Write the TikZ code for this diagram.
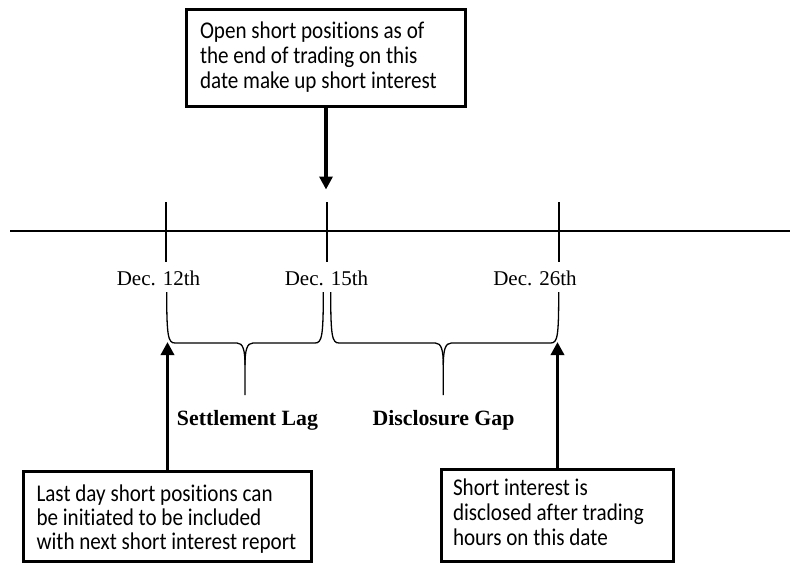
\documentclass[tikz,border=0pt]{standalone}
\usepackage{fontspec}
\setmainfont{Liberation Serif}
\newfontfamily\callfont[FakeStretch=0.88, Ligatures=NoCommon]{Carlito}
\usetikzlibrary{arrows.meta}
\newcommand{\calltext}[2]{\makebox[#1][l]{\begin{tabular}{@{}l@{}}#2\end{tabular}}}
\begin{document}
\begin{tikzpicture}[x=1pt,y=-1pt,
  callout/.style={draw, line width=3pt, rectangle,
    font=\callfont\fontsize{24}{25}\selectfont, inner ysep=0pt, outer sep=0pt},
  ptr/.style={line width=3.5pt, -{Triangle[width=13pt,length=13pt]}},
  axisline/.style={line width=2pt},
  tickline/.style={line width=2pt},
  bracepath/.style={line width=1.3pt},
  datelbl/.style={font=\fontsize{21}{24}\selectfont, anchor=base, inner sep=0pt},
  gaplbl/.style={font=\bfseries\fontsize{21.8}{24}\selectfont, anchor=base, inner sep=0pt}]
\useasboundingbox (0,0) rectangle (790,565);

% timeline
\coordinate (tlw) at (10,231);
\coordinate (tle) at (790,231);
\draw[axisline] (tlw) -- (tle);
\coordinate (t12a) at (166.2,202); \coordinate (t12b) at (166.2,261.5);
\coordinate (t15a) at (327.3,202); \coordinate (t15b) at (327.3,261.5);
\coordinate (t26a) at (558.8,202); \coordinate (t26b) at (558.8,261.5);
\draw[tickline] (t12a) -- (t12b);
\draw[tickline] (t15a) -- (t15b);
\draw[tickline] (t26a) -- (t26b);

% dates
\node[datelbl] (d12) at (158.5,285) {Dec. 12th};
\node[datelbl] (d15) at (326.5,285) {Dec. 15th};
\node[datelbl] (d26) at (535,285) {Dec. 26th};

% braces
\draw[bracepath] (166.7,292) .. controls (166.7,336) and (168,343) .. (175,343) -- (237,343)
  .. controls (243,343) and (245,350) .. (245,365) -- (245,395);
\draw[bracepath] (245,365) .. controls (245,350) and (247,343) .. (253,343) -- (315,343)
  .. controls (322,343) and (323.3,336) .. (323.3,292);
\draw[bracepath] (330.7,292) .. controls (330.7,336) and (332,343) .. (339,343) -- (435.3,343)
  .. controls (441.3,343) and (443.3,350) .. (443.3,365) -- (443.3,395);
\draw[bracepath] (443.3,365) .. controls (443.3,350) and (445.3,343) .. (451.3,343) -- (550.7,343)
  .. controls (557.7,343) and (558.7,336) .. (558.7,292);

% gap labels
\node[gaplbl] (lag) at (247.5,425) {Settlement Lag};
\node[gaplbl] (gap) at (443.5,425) {Disclosure Gap};

% callouts
\node[callout, minimum width=279pt, minimum height=97pt, inner xsep=13.5pt]
  (top) at (326,58) {\calltext{252pt}{Open short positions as of\\the end of trading on this\\date make up short interest}};
\node[callout, minimum width=288pt, minimum height=90pt, inner xsep=13pt,
  font=\callfont\fontsize{24}{24}\selectfont]
  (left) at (167.5,516.5) {\calltext{262pt}{\rule{0pt}{26pt}Last day short positions can\\be initiated to be included\\with next short interest report}};
\node[callout, minimum width=232pt, minimum height=92pt, inner xsep=11.5pt]
  (right) at (557.5,515.5) {\calltext{209pt}{Short interest is\\disclosed after trading\\hours on this date}};

% pointers
\coordinate (toptip) at (326,189.5);
\coordinate (lefttip) at (167.5,342);
\coordinate (righttip) at (557.5,342);
\draw[ptr] (top.south) -- (toptip);
\draw[ptr] (left.north) -- (lefttip);
\draw[ptr] (right.north) -- (righttip);
\end{tikzpicture}
\end{document}
